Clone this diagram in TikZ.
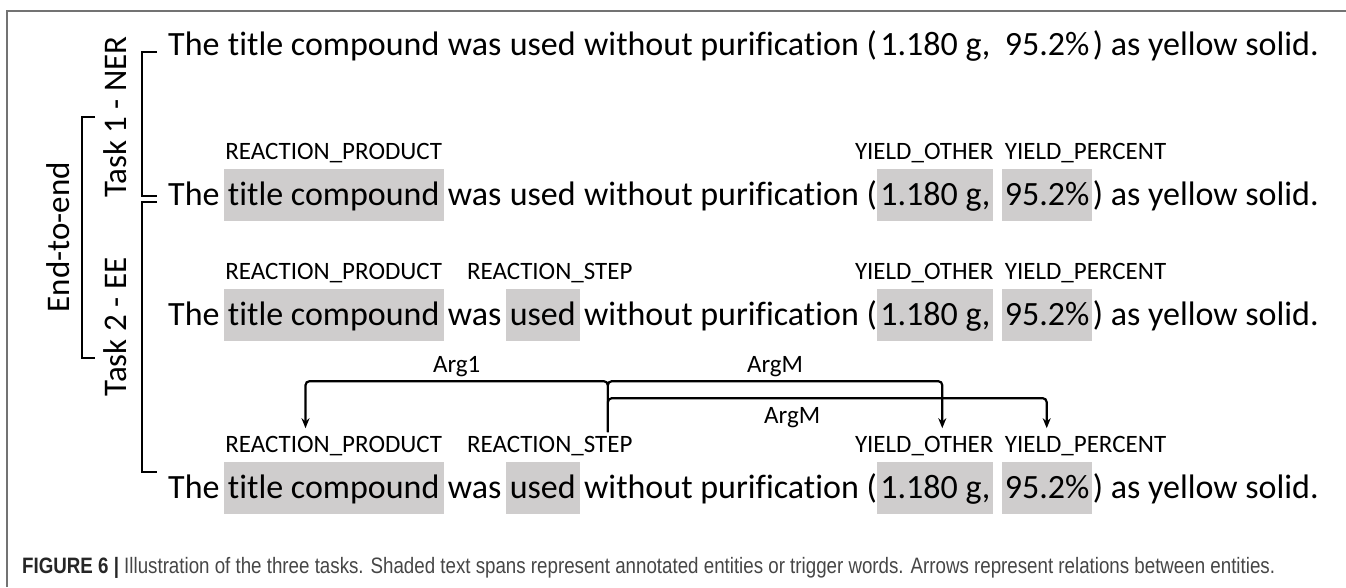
\documentclass[tikz,border=0pt]{standalone}
\usepackage{fontspec}
\setmainfont{Carlito}[Ligatures={NoCommon}]
\newfontfamily\capfont[FakeStretch=0.84]{Liberation Sans}
\usetikzlibrary{positioning,calc,arrows.meta}

\definecolor{shade}{RGB}{207,205,205}
\definecolor{framegray}{RGB}{115,115,115}
\definecolor{capgray}{RGB}{70,70,70}

% one sentence: name, baseline y, entity style, trigger style, number style
\newcommand{\sentrow}[5]{%
  \node [word, anchor=base west] (#1a) at (164,#2) {The};
  \node [#3, right=of #1a] (#1b) {title compound};
  \node [word, right=of #1b] (#1c) {was};
  \node [#4, right=of #1c] (#1d) {used};
  \node [word, right=of #1d] (#1e) {without purification (};
  \node [#5, right=-4pt of #1e] (#1f) {1.180 g,};
  \node [#5, right=8pt of #1f] (#1g) {95.2\%};
  \node [word, right=-4pt of #1g] (#1h) {) as yellow solid.};
}

\begin{document}
\begin{tikzpicture}[x=1pt, y=1pt, node distance=0pt,
  word/.style={inner xsep=4pt, inner ysep=5pt, text height=31pt, text depth=11pt,
    font=\fontsize{34}{40}\selectfont},
  ent/.style={word, fill=shade},
  plain/.style={word, inner xsep=3pt},
  num/.style={plain, fill=shade},
  tag/.style={inner sep=0pt, text depth=0pt, font=\fontsize{25}{30}\selectfont},
  brk/.style={line width=1.6pt},
  rel/.style={line width=2.2pt, rounded corners=4pt},
  tip/.style={-{Stealth[length=10pt, width=8pt]}}]

  \useasboundingbox (0,0) rectangle (1346,-587);

  % frame
  \draw [framegray, line width=1.2pt] (7,-587) -- (7,-11) -- (1346,-11);

  % sentences
  \sentrow{A}{-55}{word}{word}{plain}
  \sentrow{B}{-205}{ent}{word}{num}
  \sentrow{C}{-325}{ent}{ent}{num}
  \sentrow{D}{-498}{ent}{ent}{num}

  % entity labels
  \node [tag, above=9pt of Bb] (Bp) {REACTION\_PRODUCT};
  \node [tag, anchor=south east] (Bo) at ([yshift=9pt]Bf.north east) {YIELD\_OTHER};
  \node [tag, anchor=south west] (Bq) at ([shift={(3pt,9pt)}]Bg.north west) {YIELD\_PERCENT};

  \node [tag, above=9pt of Cb] (Cp) {REACTION\_PRODUCT};
  \node [tag, above=9pt of Cd, xshift=7pt] (Cs) {REACTION\_STEP};
  \node [tag, anchor=south east] (Co) at ([yshift=9pt]Cf.north east) {YIELD\_OTHER};
  \node [tag, anchor=south west] (Cq) at ([shift={(3pt,9pt)}]Cg.north west) {YIELD\_PERCENT};

  \node [tag, above=9pt of Db] (Dp) {REACTION\_PRODUCT};
  \node [tag, above=9pt of Dd, xshift=7pt] (Ds) {REACTION\_STEP};
  \node [tag, anchor=south east] (Do) at ([yshift=9pt]Df.north east) {YIELD\_OTHER};
  \node [tag, anchor=south west] (Dq) at ([shift={(3pt,9pt)}]Dg.north west) {YIELD\_PERCENT};

  % relations
  \coordinate (TR) at ($(Ds.north west)!0.85!(Ds.north east)+(0,4pt)$);
  \coordinate (TU) at ([yshift=51pt]TR);
  \coordinate (TL) at ([yshift=34pt]TR);
  \coordinate (R1) at ($(Dp.north west)!0.37!(Dp.north east)+(0,8pt)$);
  \coordinate (R2) at ($(Do.north west)!0.63!(Do.north east)+(0,8pt)$);
  \coordinate (R3) at ($(Dq.north west)!0.26!(Dq.north east)+(0,8pt)$);

  \draw [rel][tip] (TR) -- (TU) -| (R1);
  \draw [rel][tip] (TR) -- (TU) -| (R2);
  \draw [rel][tip] (TR) -- (TL) -| (R3);

  \node [tag, above=8pt] at ($(R1 |- TU)!0.5!(TU)$) (L1) {Arg1};
  \node [tag, above=8pt] at ($(TU)!0.5!(R2 |- TU)$) (L2) {ArgM};
  \node [tag, below=9pt] at ($(TL)!0.42!(R3 |- TL)$) (L3) {ArgM};

  % task brackets
  \draw [brk] (157,-52) -- (142,-52) -- (142,-196) -- (157,-196);
  \draw [brk] (157,-202) -- (142,-202) -- (142,-472) -- (157,-472);
  \draw [brk] (95,-117) -- (82,-117) -- (82,-358) -- (95,-358);

  \node [rotate=90, font=\fontsize{33}{40}\selectfont] (T1) at (115,-117) {Task 1 - NER};
  \node [rotate=90, font=\fontsize{33}{40}\selectfont] (T2) at (115,-327) {Task 2 - EE};
  \node [rotate=90, font=\fontsize{33}{40}\selectfont] (EE) at (58,-237) {End-to-end};

  % caption
  \node [anchor=west, inner sep=0pt, font=\capfont\fontsize{22.3}{26}\selectfont, text=capgray] (CAP) at (22,-568)
    {\textbf{\color{black!85}FIGURE 6 |} Illustration of the three tasks. Shaded text spans represent annotated entities or trigger words. Arrows represent relations between entities.};

\end{tikzpicture}
\end{document}
